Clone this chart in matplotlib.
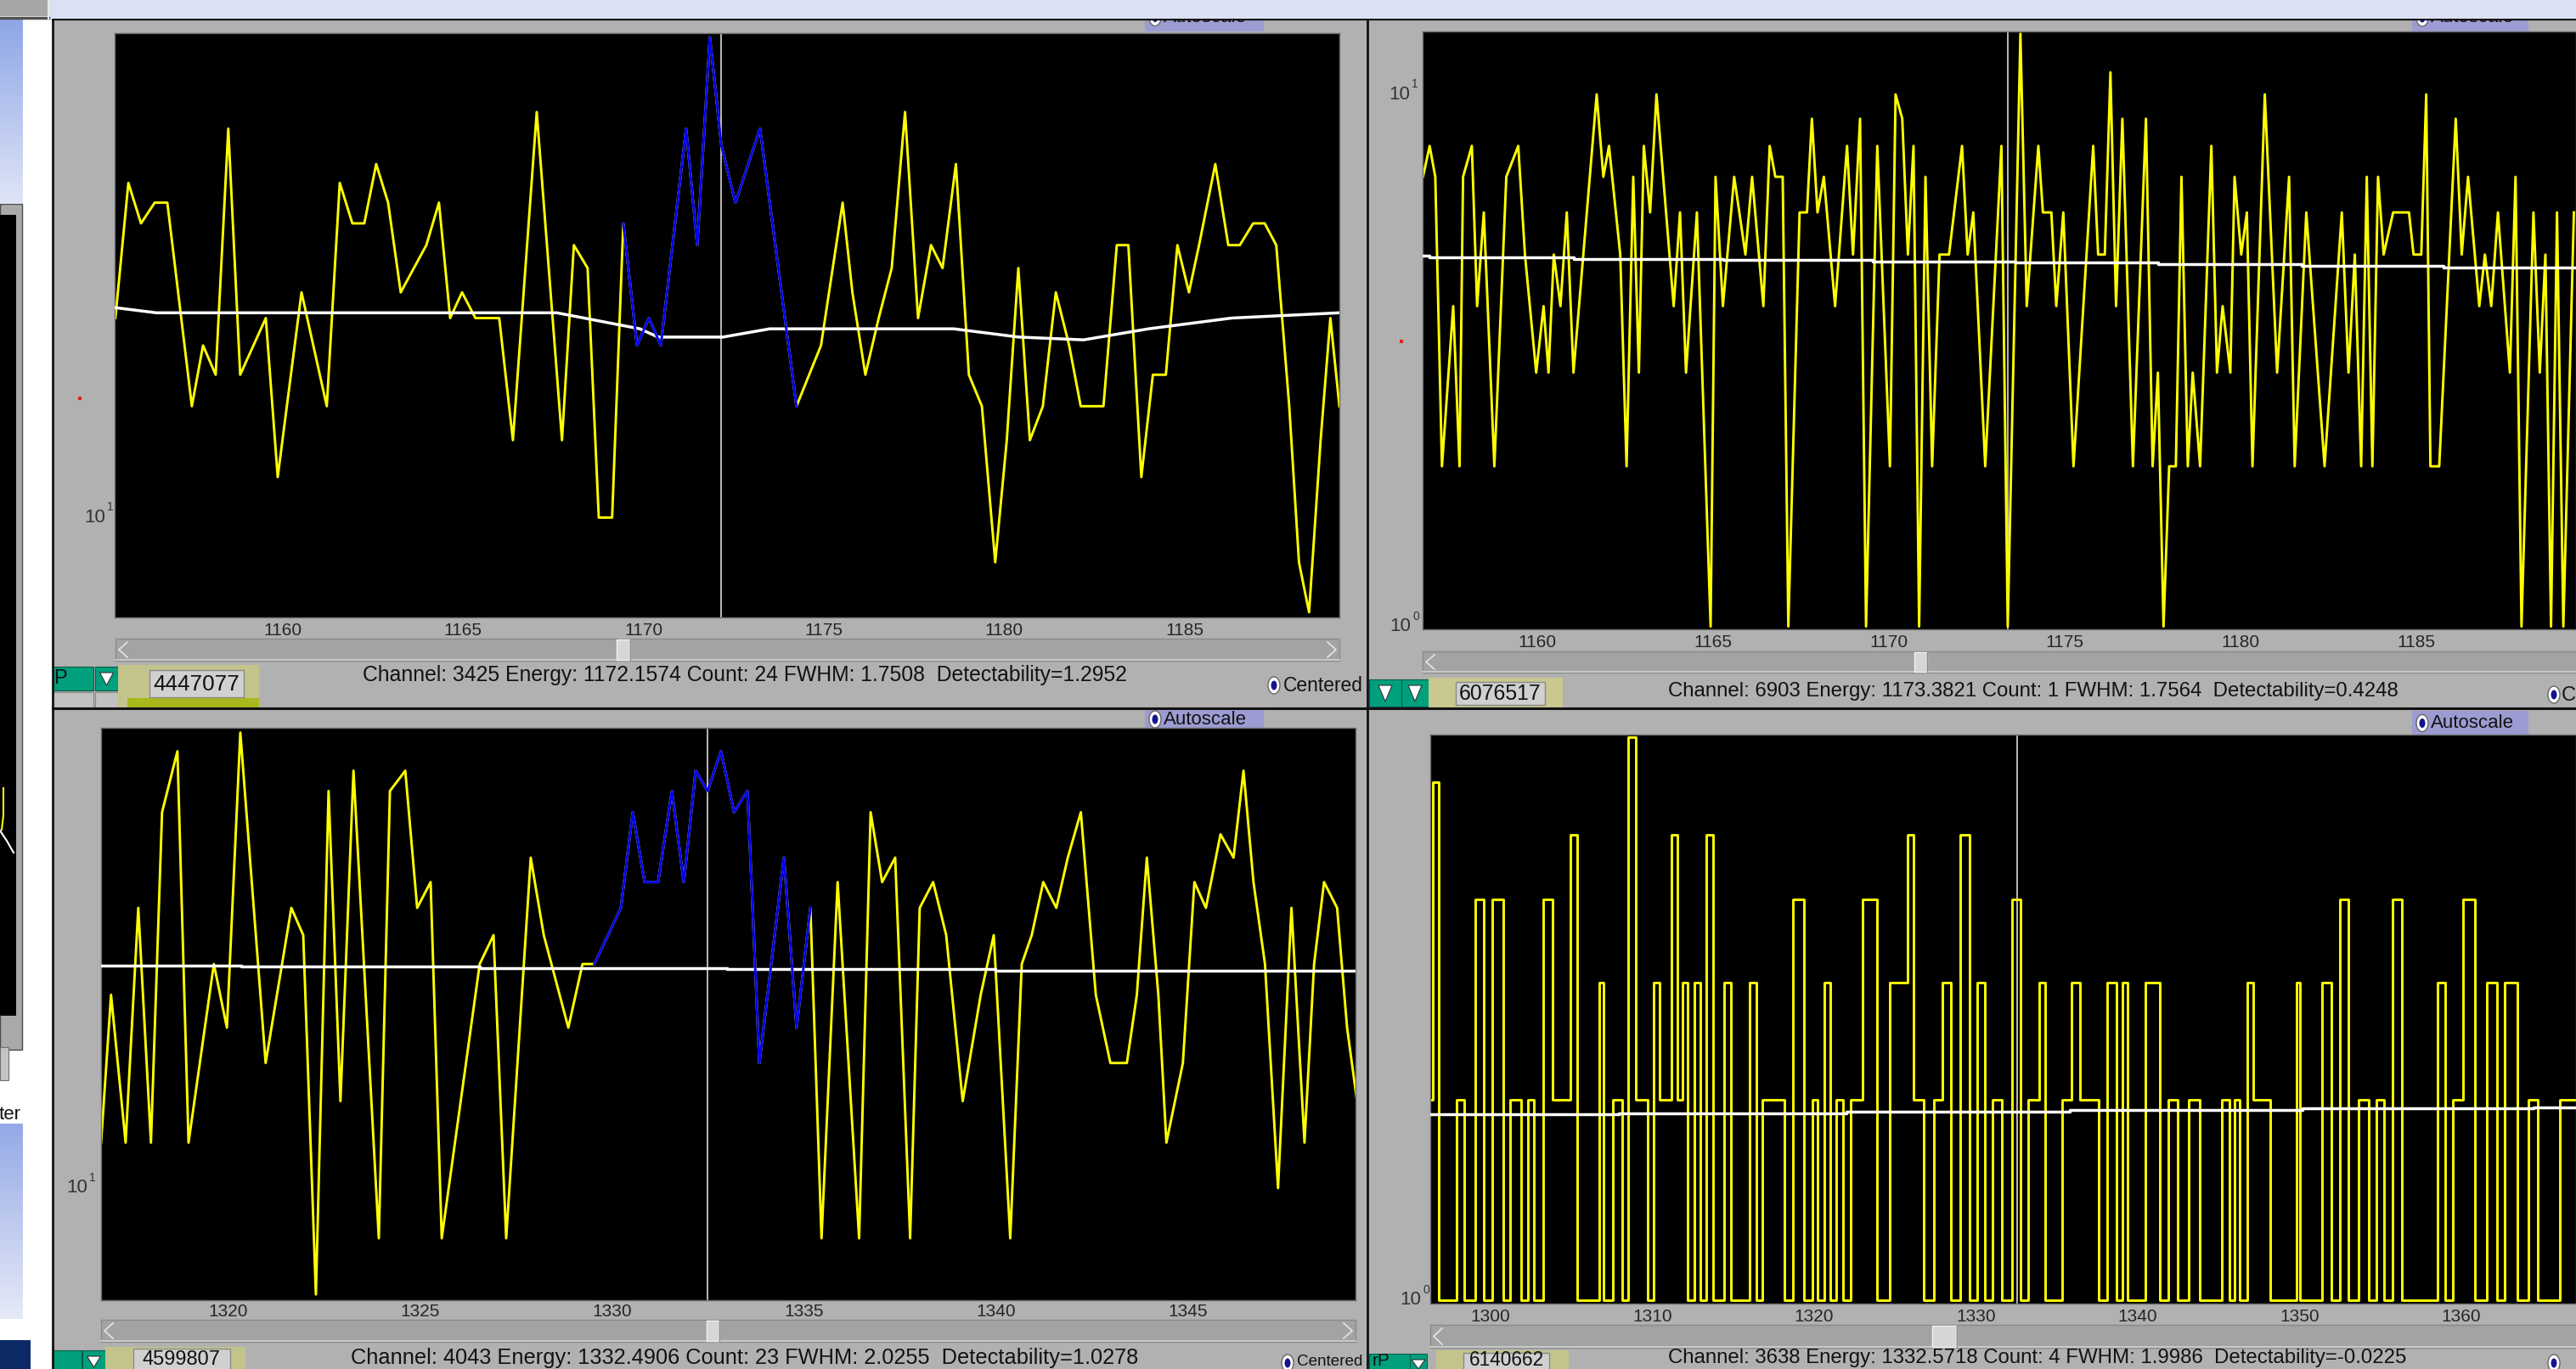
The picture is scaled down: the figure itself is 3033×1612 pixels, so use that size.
import numpy as np
import matplotlib
matplotlib.use("Agg")
import matplotlib.pyplot as plt
from matplotlib.patches import Rectangle, Ellipse, Polygon
from matplotlib.lines import Line2D
from matplotlib.colors import LinearSegmentedColormap
from matplotlib.transforms import blended_transform_factory, offset_copy, Bbox, TransformedBbox
from matplotlib import font_manager
from matplotlib.font_manager import FontProperties

# ------------------------------------------------------------------
# Spectrum data (energy in keV, counts per channel)
# ------------------------------------------------------------------
# Top-left: 1155-1189 keV, ROI around 1172 keV drawn in blue
tl_energy = [1155.36, 1155.72, 1156.07, 1156.45, 1156.80, 1157.48, 1157.79, 1158.14, 1158.49, 1158.82,
             1159.53, 1159.86, 1160.52, 1161.22, 1161.58, 1161.93, 1162.26, 1162.59, 1162.92, 1163.27,
             1163.98, 1164.33, 1164.64, 1164.97, 1165.34, 1166.00, 1166.38, 1167.04, 1167.74, 1168.07,
             1168.45, 1168.76, 1169.13, 1169.44,
             1169.82, 1170.15, 1170.48, 1171.18, 1171.49, 1171.84, 1172.16, 1172.55, 1173.23, 1174.24,
             1174.92, 1175.52, 1175.79, 1176.15, 1176.52, 1176.88, 1177.25, 1177.61, 1177.97, 1178.29,
             1178.66, 1179.02, 1179.38, 1179.75, 1180.07, 1180.39, 1180.71, 1181.07, 1181.43, 1181.80,
             1182.12, 1182.75, 1183.12, 1183.44, 1183.80, 1184.12, 1184.48, 1184.80, 1185.12, 1185.40,
             1185.85, 1186.21, 1186.53, 1186.90, 1187.22, 1187.54, 1187.90, 1188.17, 1188.45, 1188.77,
             1189.04, 1189.29]
tl_counts = [16, 22, 20, 21, 21, 13, 15, 14, 25, 14,
             16, 11, 17, 13, 22, 20, 20, 23, 21, 17,
             19, 21, 16, 17, 16, 16, 12, 26, 12, 19,
             18, 10, 10, 20,
             15, 16, 15, 25, 19, 31, 24, 21, 25, 13,
             15, 21, 17, 14, 16, 18, 26, 16, 19, 18,
             23, 14, 13, 9, 12, 18, 12, 13, 17, 15,
             13, 13, 19, 19, 11, 14, 14, 19, 17, 19,
             23, 19, 19, 20, 20, 19, 13, 9, 8, 12,
             16, 13]
tl_roi = (1169.44, 1174.24)
tl_base_energy = [1155.34, 1156.5, 1167.6, 1169.9, 1170.4, 1172.2, 1173.5, 1178.6, 1180.4, 1182.2,
                  1184.0, 1186.3, 1189.29]
tl_base_counts = [16.4, 16.2, 16.2, 15.6, 15.3, 15.3, 15.6, 15.6, 15.3, 15.2, 15.6, 16.0, 16.2]
tl_xlim = (1155.34, 1189.29)
tl_ticks = [1160, 1165, 1170, 1175, 1180, 1185]
tl_cursor = 1172.1574
tl_status = "Channel: 3425 Energy: 1172.1574 Count: 24 FWHM: 1.7508  Detectability=1.2952"
tl_total = "4447077"

# Top-right: 1157-1189 keV, high-resolution detector
tr_energy = [1156.75, 1156.94, 1157.10, 1157.29, 1157.61, 1157.79, 1157.89, 1158.14, 1158.29, 1158.48,
             1158.78, 1159.12, 1159.46, 1159.65, 1159.97, 1160.18, 1160.32, 1160.47, 1160.66, 1160.84,
             1161.03, 1161.69, 1161.88, 1162.04, 1162.36, 1162.54, 1162.73, 1162.89, 1163.03, 1163.21,
             1163.39, 1163.88, 1164.06, 1164.23, 1164.54, 1164.93, 1165.07, 1165.28, 1165.60, 1165.92,
             1166.11, 1166.43, 1166.61, 1166.77, 1166.98, 1167.14, 1167.46, 1167.67, 1167.81, 1167.97,
             1168.15, 1168.47, 1168.81, 1168.98, 1169.18, 1169.35, 1169.67, 1170.03, 1170.19, 1170.38,
             1170.54, 1170.70, 1170.86, 1171.04, 1171.23, 1171.44, 1171.71, 1172.08, 1172.24, 1172.40,
             1172.74, 1173.20,
             1173.38, 1173.74, 1173.92, 1174.25, 1174.38, 1174.62, 1174.76, 1174.96, 1175.25, 1175.81,
             1175.95, 1176.14, 1176.30, 1176.46, 1176.64, 1176.94, 1177.31, 1177.50, 1177.65, 1177.81,
             1177.97, 1178.16, 1178.32, 1178.50, 1178.64, 1178.85, 1179.17, 1179.33, 1179.49, 1179.71,
             1179.83, 1180.02, 1180.18, 1180.34, 1180.69, 1181.04, 1181.38, 1181.54, 1181.87, 1182.39,
             1182.88, 1183.07, 1183.25, 1183.43, 1183.59, 1183.75, 1183.91, 1184.07, 1184.34, 1184.79,
             1184.92, 1185.14, 1185.28, 1185.40, 1185.65, 1186.12, 1186.29, 1186.47, 1186.79, 1186.95,
             1187.13, 1187.32, 1187.66, 1187.82, 1187.99, 1188.33, 1188.51, 1188.67, 1188.83, 1189.00,
             1189.18, 1189.48]
tr_counts = [7, 8, 7, 2, 4, 2, 7, 8, 4, 6,
             2, 7, 8, 5, 3, 4, 3, 5, 4, 6,
             3, 10, 7, 8, 5, 2, 7, 3, 8, 6,
             10, 4, 6, 3, 6, 1, 7, 4, 7, 5,
             7, 4, 8, 7, 7, 1, 6, 6, 9, 6,
             7, 4, 8, 5, 9, 1, 8, 2, 10, 9,
             5, 8, 1, 7, 2, 5, 5, 8, 5, 6,
             2, 8,
             1, 13, 4, 8, 6, 6, 4, 6, 2, 8,
             5, 5, 11, 4, 9, 2, 9, 2, 3, 1,
             2, 2, 7, 2, 3, 2, 8, 3, 4, 3,
             7, 5, 6, 2, 10, 3, 7, 2, 6, 2,
             6, 3, 5, 2, 7, 2, 7, 5, 6, 6,
             5, 5, 10, 2, 2, 9, 5, 7, 4, 5,
             4, 6, 3, 7, 1, 6, 3, 5, 1, 6,
             1, 6]
tr_base_energy = [1156.74, 1156.94, 1161.03, 1165.28, 1169.53, 1173.60, 1177.65, 1181.73, 1185.78, 1189.54]
tr_base_counts = [4.98, 4.94, 4.91, 4.88, 4.85, 4.83, 4.80, 4.76, 4.72, 4.72]
tr_xlim = (1156.74, 1189.54)
tr_ticks = [1160, 1165, 1170, 1175, 1180, 1185]
tr_cursor = 1173.3821
tr_status = "Channel: 6903 Energy: 1173.3821 Count: 1 FWHM: 1.7564  Detectability=0.4248"
tr_total = "6076517"

# Bottom-left: 1317-1349 keV, ROI around 1332 keV drawn in blue
bl_energy = [1316.68, 1316.94, 1317.32, 1317.65, 1317.98, 1318.27, 1318.67, 1318.96, 1319.62, 1319.96,
             1320.31, 1320.97, 1321.64, 1321.95, 1322.28, 1322.61, 1322.92, 1323.26, 1323.92, 1324.21,
             1324.61, 1324.92, 1325.27, 1325.56, 1326.55, 1326.91, 1327.24, 1327.88, 1328.22, 1328.86,
             1329.23, 1329.54,
             1330.23, 1330.54, 1330.85, 1331.20, 1331.56, 1331.87, 1332.18, 1332.49, 1332.84, 1333.18,
             1333.53, 1333.84, 1334.48, 1334.81, 1335.17,
             1335.46, 1335.88, 1336.44, 1336.74, 1337.04, 1337.38, 1337.77, 1338.02, 1338.37, 1338.71,
             1339.14, 1339.61, 1339.95, 1340.38, 1340.68, 1340.94, 1341.24, 1341.58, 1341.88, 1342.22,
             1342.61, 1342.99, 1343.42, 1343.68, 1343.94, 1344.24, 1344.45, 1344.88, 1345.18, 1345.48,
             1345.86, 1346.20, 1346.46, 1346.72, 1347.02, 1347.36, 1347.71, 1348.05, 1348.30, 1348.56,
             1348.90, 1349.16, 1349.42]
bl_counts = [11, 15, 11, 18, 11, 22, 25, 11, 16, 14,
             26, 13, 18, 17, 8, 23, 12, 24, 9, 23,
             24, 18, 19, 9, 16, 17, 9, 20, 17, 14,
             16, 16,
             18, 22, 19, 19, 23, 19, 24, 23, 25, 22,
             23, 13, 20, 14, 18,
             9, 19, 9, 22, 19, 20, 9, 18, 19, 17,
             12, 15, 17, 9, 16, 17, 19, 18, 20, 22,
             15, 13, 13, 15, 20, 15, 11, 13, 19, 18,
             21, 20, 24, 19, 16, 10, 18, 11, 16, 19,
             18, 14, 12]
bl_roi = (1329.54, 1335.17)
bl_base_energy = [1316.68, 1320.33, 1326.55, 1333.0, 1340.0, 1349.38]
bl_base_counts = [15.95, 15.91, 15.86, 15.82, 15.78, 15.78]
bl_xlim = (1316.68, 1349.38)
bl_ticks = [1320, 1325, 1330, 1335, 1340, 1345]
bl_cursor = 1332.4906
bl_status = "Channel: 4043 Energy: 1332.4906 Count: 23 FWHM: 2.0255  Detectability=1.0278"
bl_total = "4599807"

# Bottom-right: 1296-1367 keV, low-count detector
br_energy = [1296.29, 1296.61, 1296.97, 1297.65, 1298.15, 1298.55, 1298.87, 1299.23, 1299.91, 1300.28,
             1300.59, 1300.96, 1301.41, 1301.73, 1302.09, 1302.54, 1302.86, 1303.63, 1304.08, 1304.76,
             1305.12, 1305.58, 1306.57, 1306.84, 1307.16, 1307.93, 1308.29, 1308.75, 1309.20, 1309.52,
             1309.88, 1310.24, 1310.65, 1311.01, 1311.38, 1311.69, 1312.01, 1312.37, 1312.82, 1313.14,
             1313.50, 1313.96, 1314.27, 1314.64, 1315.09, 1315.77, 1316.22, 1316.67, 1316.90, 1317.94,
             1318.35, 1319.03, 1319.71, 1320.07, 1320.39, 1320.84, 1321.20, 1321.57, 1321.98, 1322.56,
             1323.38, 1324.38, 1324.96, 1325.60, 1325.96, 1326.32, 1327.18, 1327.64, 1328.23, 1328.68,
             1329.36, 1329.81, 1330.36, 1330.72, 1331.31, 1331.85, 1332.57, 1332.98, 1333.44, 1333.75,
             1334.12, 1334.48, 1335.11, 1335.56, 1336.24, 1336.61, 1337.38, 1337.74, 1338.51, 1338.87,
             1339.19, 1339.55, 1340.23, 1340.68, 1341.14, 1341.59, 1342.18, 1342.72, 1343.54, 1344.08,
             1344.99, 1345.44, 1345.89, 1346.12, 1346.48, 1347.03, 1347.25, 1348.02, 1348.38, 1349.74,
             1349.88, 1350.20, 1351.10, 1351.69, 1352.23, 1352.78, 1353.23, 1354.05, 1354.50, 1355.04,
             1355.41, 1356.09, 1356.54, 1358.35, 1358.71, 1359.26, 1359.71, 1360.53, 1361.16, 1361.98,
             1362.43, 1362.88, 1363.11, 1363.79, 1364.01, 1364.33, 1364.56, 1364.92, 1365.82, 1366.37,
             1366.73, 1367.09]
br_counts = [2, 6, 1, 1, 2, 1, 1, 4, 1, 4,
             4, 1, 2, 2, 1, 2, 1, 4, 2, 2,
             5, 1, 1, 3, 1, 2, 1, 7, 2, 2,
             1, 3, 2, 2, 5, 2, 3, 1, 3, 1,
             5, 1, 1, 3, 1, 1, 3, 1, 2, 2,
             1, 4, 1, 2, 1, 3, 1, 2, 1, 2,
             4, 1, 3, 3, 5, 2, 1, 2, 3, 1,
             5, 1, 3, 1, 2, 1, 4, 1, 2, 2,
             3, 1, 1, 2, 3, 2, 2, 1, 3, 1,
             3, 1, 1, 3, 3, 1, 2, 1, 2, 1,
             1, 2, 1, 2, 1, 3, 2, 2, 1, 1,
             3, 1, 1, 3, 1, 4, 1, 2, 1, 2,
             1, 4, 1, 1, 3, 1, 2, 4, 1, 3,
             1, 3, 3, 1, 1, 2, 2, 1, 1, 2,
             2, 2]
br_base_energy = [1296.27, 1307.93, 1321.98, 1335.79, 1350.20, 1364.47, 1367.09]
br_base_counts = [1.90, 1.91, 1.92, 1.93, 1.94, 1.95, 1.95]
br_xlim = (1296.27, 1367.09)
br_ticks = [1300, 1310, 1320, 1330, 1340, 1350, 1360]
br_cursor = 1332.5718
br_status = "Channel: 3638 Energy: 1332.5718 Count: 4 FWHM: 1.9986  Detectability=-0.0225"
br_total = "6140662"

# ------------------------------------------------------------------
# Figure and helpers (positions in pixels from the top-left corner)
# ------------------------------------------------------------------
W, H = 3033, 1612
fig = plt.figure(figsize=(W / 100, H / 100), dpi=100)
fig.patch.set_facecolor("white")

UI_FONT = font_manager.findfont(FontProperties(family=["Liberation Sans", "DejaVu Sans"]))

PANEL = "#b1b1b1"
GREEN = "#00a07c"
OLIVE = "#c3c38c"
LAV = "#9c9cd2"
INK = "#121212"


def fp(size):
    return FontProperties(fname=UI_FONT, size=size)


def fbox(x0, y0, x1, y1, fc, ec="none", lw=0.0, z=1):
    fig.add_artist(Rectangle((x0 / W, 1 - y1 / H), (x1 - x0) / W, (y1 - y0) / H,
                             transform=fig.transFigure, facecolor=fc, edgecolor=ec,
                             linewidth=lw, zorder=z))


def fline(xs, ys, color, lw, z):
    fig.add_artist(Line2D([x / W for x in xs], [1 - y / H for y in ys],
                          transform=fig.transFigure, color=color, linewidth=lw, zorder=z))


def ftext(x, y, s, size, color=INK, ha="left", va="center", z=7, clip=None):
    t = fig.text(x / W, 1 - y / H, s, fontproperties=fp(size), color=color, ha=ha, va=va,
                 zorder=z)
    if clip is not None:
        cx0, cy0, cx1, cy1 = clip
        bb = Bbox.from_extents(cx0 / W, 1 - cy1 / H, cx1 / W, 1 - cy0 / H)
        t.set_clip_box(TransformedBbox(bb, fig.transFigure))
        t.set_clip_on(True)
    return t


def fit_text(x0, x1, y, s, z=7, ha="left", color=INK, max_size=None):
    xa = x0 if ha == "left" else (x0 + x1) / 2
    t = ftext(xa, y, s, 14, z=z, ha=ha, color=color)
    r = fig.canvas.get_renderer()
    w = t.get_window_extent(renderer=r).width
    size = 14 * (x1 - x0) / w
    if max_size is not None:
        size = min(size, max_size)
    t.set_fontsize(size)
    return t


def gradient(x0, y0, x1, y1, top, bottom, z=1):
    g = fig.add_axes([x0 / W, 1 - y1 / H, (x1 - x0) / W, (y1 - y0) / H])
    g.set_zorder(z)
    cmap = LinearSegmentedColormap.from_list("g", [top, bottom])
    g.imshow(np.linspace(0, 1, 256)[:, None], aspect="auto", cmap=cmap)
    g.set_axis_off()


def radio(x, y, z=7):
    fig.add_artist(Ellipse((x / W, 1 - y / H), 14 / W, 20 / H, transform=fig.transFigure,
                           facecolor="white", edgecolor="#666666", linewidth=1.0, zorder=z))
    fig.add_artist(Ellipse((x / W, 1 - y / H), 7 / W, 11 / H, transform=fig.transFigure,
                           facecolor="#141490", edgecolor="none", zorder=z + 0.1))


def dropdown(x0, y0, x1, y1, z):
    fbox(x0, y0, x1, y1, GREEN, ec="#0a5a46", lw=0.8, z=z)
    cx = (x0 + x1) / 2
    tri = Polygon([((cx - 8) / W, 1 - (y0 + 7) / H), ((cx + 8) / W, 1 - (y0 + 7) / H),
                   (cx / W, 1 - (y1 - 6) / H)], closed=True, transform=fig.transFigure,
                  facecolor="white", edgecolor="#333333", linewidth=0.8, zorder=z + 0.1)
    fig.add_artist(tri)


def scrollbar(x0, y0, x1, y1, t0, t1, right_arrow, z):
    fbox(x0, y0, x1, y1, "#a3a3a3", ec="#8a8a8a", lw=1.0, z=z)
    fline([x0, x1], [y1 - 1, y1 - 1], "#d2d2d2", 1.2, z + 0.1)
    fbox(t0, y0 + 1, t1, y1 - 1, "#d6d6d6", ec="#f2f2f2", lw=1.0, z=z + 0.2)
    fline([t1, t1], [y0 + 1, y1 - 1], "#8c8c8c", 1.0, z + 0.3)
    yc = (y0 + y1) / 2
    fline([x0 + 14, x0 + 4, x0 + 14], [y0 + 4, yc, y1 - 4], "#e6e6e6", 1.2, z + 0.3)
    if right_arrow:
        fline([x1 - 14, x1 - 4, x1 - 14], [y0 + 4, yc, y1 - 4], "#e6e6e6", 1.2, z + 0.3)


def autoscale(x0, y0, x1, y1, z):
    fbox(x0, y0, x1, y1, LAV, z=z)
    yc = (y0 + y1) / 2
    radio(x0 + 12, yc, z=z + 0.2)
    fit_text(x0 + 22, x1 - 6, yc, "Autoscale", z=z + 0.3, max_size=16)


def spectrum(box, energy, counts, base_e, base_c, base_style, xlim, cursor, ticks, tick_y,
             ylabels, roi=None, steps=False):
    x0, y0, x1, y1 = box
    ax = fig.add_axes([x0 / W, 1 - y1 / H, (x1 - x0) / W, (y1 - y0) / H])
    ax.set_zorder(6)
    ax.set_facecolor("black")
    ax.set_yscale("log", nonpositive="clip")
    e = np.asarray(energy, float)
    c = np.asarray(counts, float)
    ax.axvline(cursor, color="#c8c8c8", lw=1.3, zorder=1)
    ax.plot(e, c, color="#ffff00", lw=2.1, zorder=2,
            drawstyle="steps-mid" if steps else "default")
    ax.plot(base_e, base_c, color="white", lw=2.5, drawstyle=base_style, zorder=3)
    if roi is not None:
        m = (e >= roi[0]) & (e <= roi[1])
        ax.plot(e[m], c[m], color="#0000ff", lw=2.1, zorder=4)
    ax.set_xlim(*xlim)
    ax.set_ylim(c.min() * 0.988, c.max() * 1.01)
    ax.tick_params(which="both", length=0, labelbottom=False, labelleft=False)
    for s in ax.spines.values():
        s.set_color("#6c6c6c")
        s.set_linewidth(1.0)
    tx = blended_transform_factory(ax.transData, fig.transFigure)
    for t in ticks:
        ax.text(t, 1 - tick_y / H, str(t), transform=tx, ha="center", va="center",
                fontproperties=fp(15), color="#262626")
    ty = blended_transform_factory(fig.transFigure, ax.transData)
    sup = offset_copy(ty, fig=fig, x=2, y=5, units="dots")
    for xr, ex in ylabels:
        ax.text(xr / W, 10.0 ** ex, "10", transform=ty, ha="right", va="center",
                fontproperties=fp(16), color="#333333")
        ax.text(xr / W, 10.0 ** ex, str(ex), transform=sup, ha="left", va="bottom",
                fontproperties=fp(10), color="#333333")
    return ax


# ------------------------------------------------------------------
# Window furniture on the left edge
# ------------------------------------------------------------------
gradient(0, 22, 27, 240, "#8ea6e6", "#dfe5f7", z=1)
fbox(0, 240, 26, 1236, "#a9a9a9", ec="#4a4a4a", lw=1.0, z=1)
fbox(0, 253, 19, 1196, "black", z=1.1)
fline([4, 4, 2], [928, 960, 977], "#ffff00", 1.5, 1.2)
fline([0, 8, 16], [978, 990, 1004], "white", 1.5, 1.2)
fbox(0, 1233, 10, 1272, "#c4c4c4", ec="#707070", lw=0.8, z=1.2)
ftext(25, 1312, "ter", 16, ha="right", z=1.2, clip=(0, 1290, 27, 1330))
gradient(0, 1323, 26, 1553, "#94a9e6", "#e6eaf8", z=1)
fbox(0, 1578, 36, 1612, "#0b2a66", z=1)

# ------------------------------------------------------------------
# Panel backgrounds and separators
# ------------------------------------------------------------------
fbox(62, 22, 1609, 835, PANEL, z=2)
fbox(62, 835, 1609, 1612, PANEL, z=2)
fbox(1609, 22, W, 835, PANEL, z=4)
fbox(1609, 835, W, 1612, PANEL, z=4)
fline([62, 62], [22, H], "#111111", 2.0, 5.5)
fline([1609.5, 1609.5], [22, H], "#111111", 2.0, 5.5)
fline([62, W], [834.5, 834.5], "#111111", 2.2, 5.5)
fline([62, W], [22.5, 22.5], "#111111", 1.6, 5.5)

# red marker dots beside the y axes
fbox(92, 467, 96, 471, "#e02020", z=3)
fbox(1648, 400, 1652, 404, "#e02020", z=5)

# ------------------------------------------------------------------
# Spectra
# ------------------------------------------------------------------
spectrum((135, 39, 1577, 727), tl_energy, tl_counts, tl_base_energy, tl_base_counts, "default",
         tl_xlim, tl_cursor, tl_ticks, 743, [(124, 1)], roi=tl_roi)
spectrum((1675, 37, W, 741), tr_energy, tr_counts, tr_base_energy, tr_base_counts, "steps-post",
         tr_xlim, tr_cursor, tr_ticks, 757, [(1660, 1), (1661, 0)])
spectrum((119, 857, 1596, 1531), bl_energy, bl_counts, bl_base_energy, bl_base_counts, "steps-post",
         bl_xlim, bl_cursor, bl_ticks, 1545, [(103, 1)], roi=bl_roi)
spectrum((1684, 865, W, 1535), br_energy, br_counts, br_base_energy, br_base_counts, "steps-post",
         br_xlim, br_cursor, br_ticks, 1551, [(1673, 0)], steps=True)

# ------------------------------------------------------------------
# Scrollbars
# ------------------------------------------------------------------
scrollbar(136, 752, 1577, 778, 726, 742, True, 3)
scrollbar(1675, 767, W + 5, 792, 2254, 2269, False, 5)
scrollbar(119, 1554, 1596, 1580, 832, 847, True, 3)
scrollbar(1684, 1560, W + 5, 1587, 2275, 2304, False, 5)

# ------------------------------------------------------------------
# Status rows
# ------------------------------------------------------------------
# top-left
fbox(62, 785, 110, 813, GREEN, ec="#0a5a46", lw=0.8, z=3)
ftext(63, 799, "P", 17, z=3.2)
dropdown(112, 785, 139, 813, 3)
fbox(62, 815, 110, 833, "#c2c2c2", ec="#8a8a8a", lw=0.8, z=3)
fbox(112, 815, 139, 833, "#c2c2c2", ec="#8a8a8a", lw=0.8, z=3)
fbox(139, 783, 305, 833, OLIVE, z=3)
fbox(150, 822, 305, 833, "#a9b81c", z=3.1)
fbox(176, 789, 287, 821, "#d0d0d0", ec="#8a8a8a", lw=1.0, z=3.2)
fit_text(180, 283, 806, tl_total, z=3.3, ha="center", max_size=20)
fit_text(427, 1333, 795, tl_status, z=3.3)
radio(1500, 807, z=3.3)
fit_text(1511, 1605, 808, "Centered", z=3.3, max_size=18)

# top-right
dropdown(1612, 800, 1650, 832, 5)
dropdown(1650, 800, 1682, 832, 5)
fbox(1682, 798, 1840, 833, "#c8c890", z=5)
fbox(1714, 803, 1819, 830, "#d0d0d0", ec="#8a8a8a", lw=1.0, z=5.2)
fit_text(1718, 1815, 817, tr_total, z=5.3, ha="center", max_size=20)
fit_text(1964, 2831, 814, tr_status, z=5.3)
radio(3007, 818, z=5.3)
ftext(3016, 819, "C", 17, z=5.3)

# bottom-left
fbox(62, 1590, 96, 1612, GREEN, ec="#0a5a46", lw=0.8, z=3)
dropdown(97, 1590, 124, 1616, 3)
fbox(124, 1586, 289, 1612, OLIVE, z=3)
fbox(157, 1588, 271, 1616, "#d0d0d0", ec="#8a8a8a", lw=1.0, z=3.2)
fit_text(163, 265, 1601, bl_total, z=3.3, ha="center", max_size=17)
fit_text(413, 1343, 1599, bl_status, z=3.3)
radio(1516, 1605, z=3.3)
fit_text(1527, 1605, 1604, "Centered", z=3.3, max_size=17)

# bottom-right
fbox(1612, 1594, 1660, 1616, GREEN, ec="#0a5a46", lw=0.8, z=5)
ftext(1616, 1603, "rP", 15, z=5.2)
dropdown(1660, 1594, 1680, 1618, 5)
fbox(1691, 1590, 1847, 1612, OLIVE, z=5)
fbox(1723, 1593, 1824, 1616, "#d0d0d0", ec="#8a8a8a", lw=1.0, z=5.2)
fit_text(1729, 1818, 1602, br_total, z=5.3, ha="center", max_size=17)
fit_text(1964, 2838, 1599, br_status, z=5.3)
radio(3007, 1605, z=5.3)

# ------------------------------------------------------------------
# Autoscale toggles and title band
# ------------------------------------------------------------------
autoscale(1348, 4, 1488, 37, 3)
autoscale(2840, 4, 2977, 38, 5)
ftext(2670, 18, "22:08:10", 17, color="#e01818", ha="center", z=5.3)
autoscale(1348, 836, 1488, 858, 3)
autoscale(2840, 837, 2977, 866, 5)

fbox(57, 0, W, 22, "#dbe1f5", z=8)
fbox(0, 0, 57, 19, "#a6a6a6", z=8)
fline([0, 57], [20.5, 20.5], "#505050", 2.5, 8.1)
fline([57.5, 57.5], [0, 22], "#e8e8e8", 1.5, 8.1)

fig.savefig("out.png", dpi=100, facecolor=fig.get_facecolor())
